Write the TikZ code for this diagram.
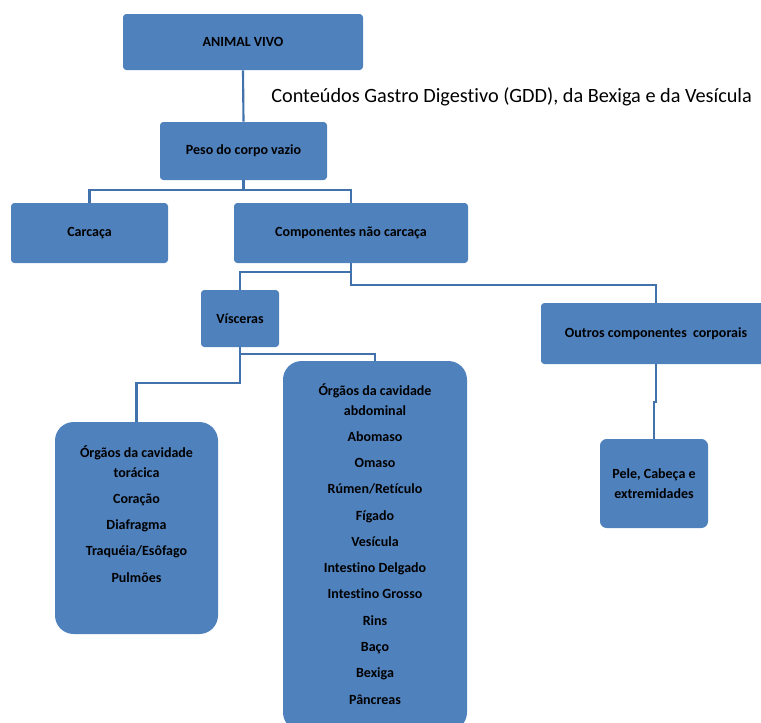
\documentclass[tikz,border=0pt]{standalone}
\usepackage{fontspec}
\setmainfont{Carlito}[Ligatures=NoCommon]
\definecolor{caixa}{RGB}{79,129,189}
\definecolor{linha}{RGB}{66,114,172}
\begin{document}
\begin{tikzpicture}[x=0.75pt,y=0.75pt,yscale=-1,xscale=1,
  caixa/.style={fill=caixa,draw=none,rounded corners=2.5pt,inner sep=0pt,align=center,font=\fontsize{10.5}{14.6}\selectfont\bfseries},
  grande/.style={caixa,rounded corners=14pt},
  lista/.style={inner sep=0pt,align=center,font=\fontsize{10.5}{14.6}\selectfont\bfseries},
  ligacao/.style={draw=linha,line width=1.6pt}]
\useasboundingbox (0,0) rectangle (761,722);

%Shape: Rectangle [ANIMAL VIVO]
\node [caixa,minimum width=180pt,minimum height=42pt] (vivo) at (243,42) {ANIMAL VIVO};
%Shape: Rectangle [Peso do corpo vazio]
\node [caixa,minimum width=125.25pt,minimum height=43.5pt] (peso) at (243.5,151) {Peso do corpo vazio};
%Shape: Rectangle [Carcaca]
\node [caixa,minimum width=117.75pt,minimum height=45pt] (carcaca) at (89.5,233) {Carcaça};
%Shape: Rectangle [Componentes]
\node [caixa,minimum width=175.5pt,minimum height=45pt] (comp) at (351,233) {Componentes não carcaça};
%Shape: Rectangle [Visceras]
\node [caixa,minimum width=58.5pt,minimum height=42.75pt] (visceras) at (240,318.5) {Vísceras};
%Shape: Rectangle [Outros]
\node [caixa,minimum width=172.5pt,minimum height=45.75pt] (outros) at (656,333.5) {Outros componentes\ \ corporais};
%Shape: Rectangle [Toracica]
\node [grande,minimum width=122.25pt,minimum height=159pt] (toracica) at (136.5,528) {};
%Shape: Rectangle [Abdominal]
\node [grande,minimum width=138pt,minimum height=277.5pt] (abdominal) at (375,546) {};
%Shape: Rectangle [Pele]
\node [caixa,rounded corners=5pt,minimum width=81pt,minimum height=66.75pt] (pele) at (654,483.5) {Pele, Cabeça e\\extremidades};

%Straight Lines
\draw [ligacao] (vivo.south) -- (peso.north) ;
\draw [ligacao] (peso.south) -- ++(0,10) -| (carcaca.north) ;
\draw [ligacao] (peso.south) -- ++(0,10) -| (comp.north) ;
\draw [ligacao] (comp.south) -- ++(0,9) -| (visceras.north) ;
\draw [ligacao] (comp.south) -- ++(0,22) -| (outros.north) ;
\draw [ligacao] (visceras.south) -- ++(0,7) -| (abdominal.north) ;
\draw [ligacao] (visceras.south) -- ++(0,36) -| (toracica.north) ;
\draw [ligacao] (outros.south) -- ++(0,38) -| (pele.north) ;

% Text Node
\node [anchor=west,inner sep=0pt,font=\fontsize{15.2}{18}\selectfont] (gdd) at (271,97) {Conteúdos Gastro Digestivo (GDD), da Bexiga e da Vesícula};
% Text Node
\node [lista] (toracicatxt) at (136.5,514) {Órgãos da cavidade\\torácica\\[5.1pt]Coração\\[5.1pt]Diafragma\\[5.1pt]Traquéia/Esôfago\\[5.1pt]Pulmões};
% Text Node
\node [lista] (abdominaltxt) at (375,544) {Órgãos da cavidade\\abdominal\\[5.1pt]Abomaso\\[5.1pt]Omaso\\[5.1pt]Rúmen/Retículo\\[5.1pt]Fígado\\[5.1pt]Vesícula\\[5.1pt]Intestino Delgado\\[5.1pt]Intestino Grosso\\[5.1pt]Rins\\[5.1pt]Baço\\[5.1pt]Bexiga\\[5.1pt]Pâncreas};

\end{tikzpicture}
\end{document}
